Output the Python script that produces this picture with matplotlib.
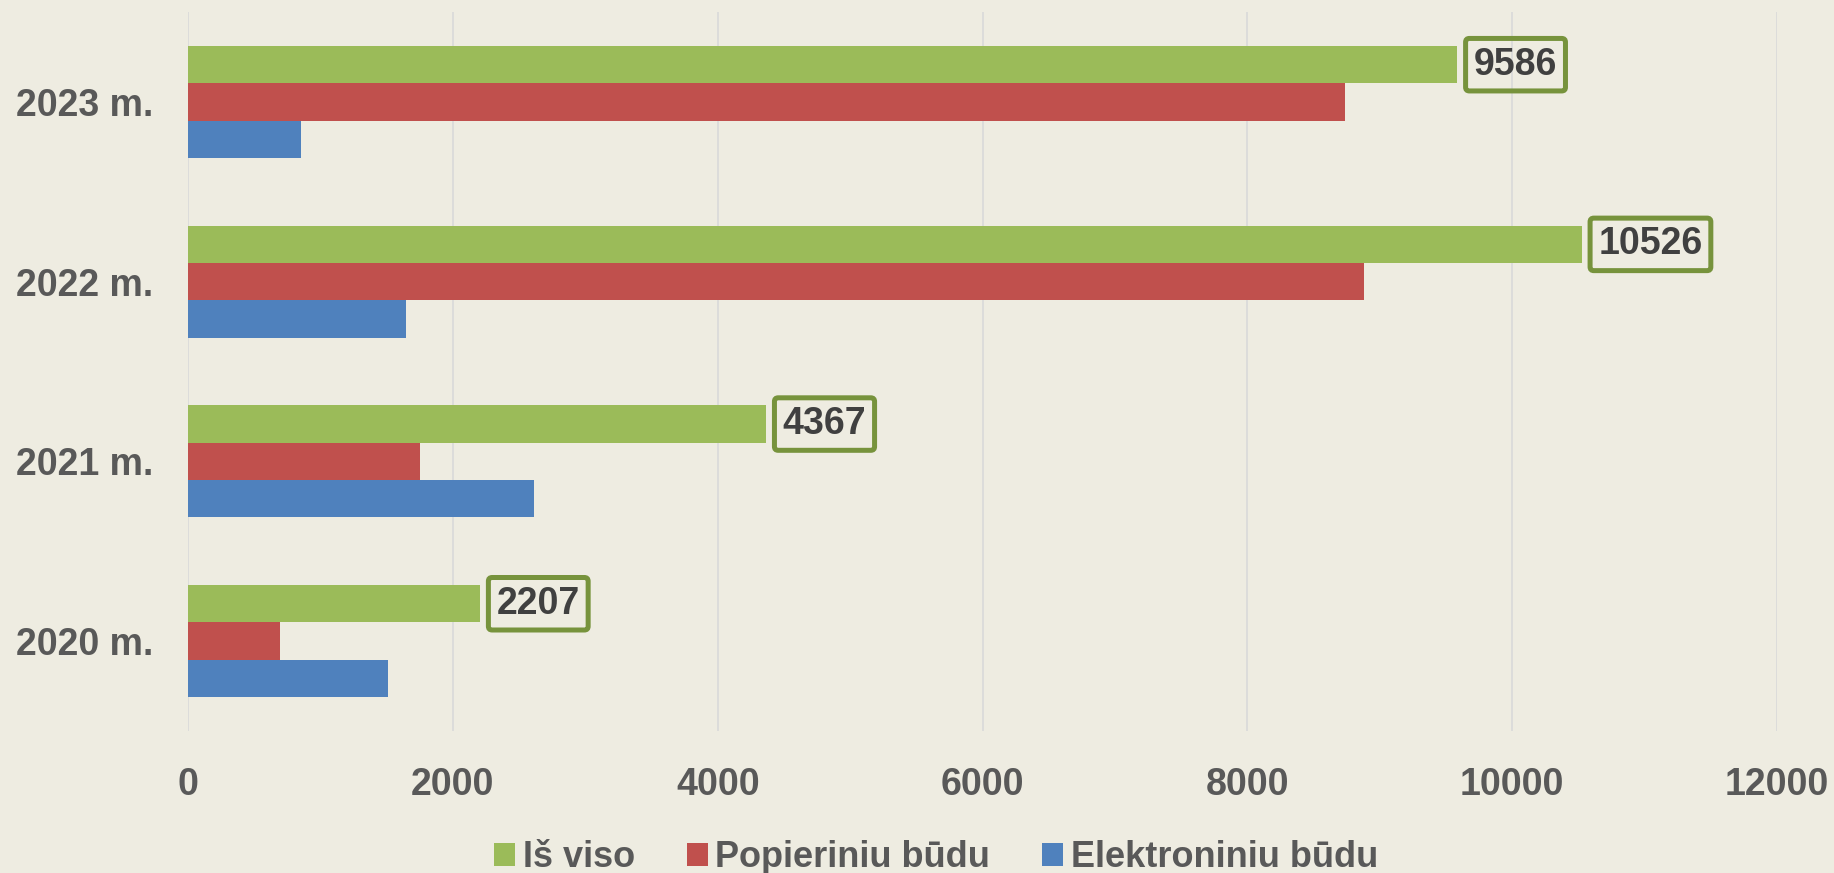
import matplotlib
matplotlib.use("Agg")
import matplotlib.pyplot as plt
from matplotlib.patches import Patch
import numpy as np

years = ["2020 m.", "2021 m.", "2022 m.", "2023 m."]
total = [2207, 4367, 10526, 9586]
paper = [695, 1752, 8880, 8735]
electronic = [1512, 2615, 1646, 851]
series_names = ["Iš viso", "Popieriniu būdu", "Elektroniniu būdu"]
xticks = [0, 2000, 4000, 6000, 8000, 10000, 12000]

BG = "#EEECE1"
GREEN = "#9BBB59"
RED = "#C0504D"
BLUE = "#4F81BD"
LABEL = "#595959"
DLABEL = "#404040"
BOX = "#77933C"

plt.rcParams['font.family'] = ['Liberation Sans', 'DejaVu Sans']
fig = plt.figure(figsize=(18.34, 8.73), dpi=100, facecolor=BG)
ax = fig.add_axes([0.1025, 0.1627, 0.969 - 0.1025, 0.986 - 0.1627])
ax.set_facecolor(BG)

y = np.arange(len(years))
h = 0.208
ax.barh(y + h, total, height=h, color=GREEN, zorder=3)
ax.barh(y, paper, height=h, color=RED, zorder=3)
ax.barh(y - h, electronic, height=h, color=BLUE, zorder=3)

for yi, v in zip(y, total):
    ax.annotate(str(v), xy=(v, yi + h), xytext=(11.8, 0), textcoords="offset points",
                ha="left", va="center", fontsize=27, fontweight="bold", color=DLABEL,
                bbox=dict(boxstyle="round,pad=0.22,rounding_size=0.1", facecolor="none",
                          edgecolor=BOX, linewidth=3.6), zorder=4)

ax.set_xlim(0, 12000)
ax.set_ylim(-0.5, 3.5)
ax.set_xticks(xticks)
ax.set_xticklabels([str(t) for t in xticks])
ax.set_yticks(y)
ax.set_yticklabels(years)
ax.tick_params(axis="x", length=0, pad=26, labelsize=27, labelcolor=LABEL)
ax.tick_params(axis="y", length=0, pad=25, labelsize=27, labelcolor=LABEL)
for lab in ax.get_xticklabels() + ax.get_yticklabels():
    lab.set_fontweight("bold")
for s in ax.spines.values():
    s.set_visible(False)
ax.grid(axis="x", color="#D9D9D9", linewidth=1.2, zorder=0)
ax.set_axisbelow(True)

handles = [Patch(facecolor=c) for c in (GREEN, RED, BLUE)]
leg = fig.legend(handles, series_names, loc="center", bbox_to_anchor=(0.5104, 0.0177),
                 ncol=3, frameon=False, handlelength=0.58, handleheight=0.58,
                 handletextpad=0.2, columnspacing=1.45, borderpad=0, borderaxespad=0,
                 prop=dict(size=26, weight="bold"))
for t in leg.get_texts():
    t.set_color(LABEL)

fig.savefig("out.png", dpi=100, facecolor=BG)
